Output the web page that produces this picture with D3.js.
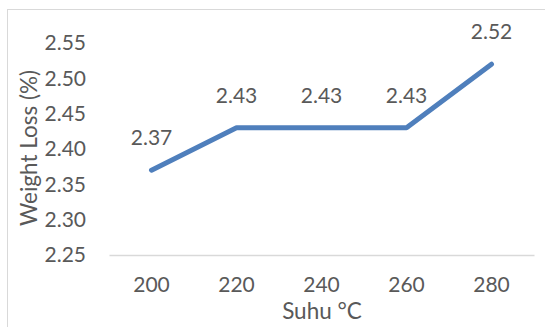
<!DOCTYPE html>
<html>
<head>
<meta charset="utf-8">
<script src="https://cdn.jsdelivr.net/npm/d3@7"></script>
<style>
  html, body { margin: 0; padding: 0; background: #fff; }
  svg { display: block; }
  text { font-family: Lato, "Open Sans", sans-serif; fill: #595959; }
</style>
</head>
<body>
<svg id="chart" width="545" height="327"></svg>
<script>
// Weight loss at each temperature
const categories = ["200", "220", "240", "260", "280"];
const weightLoss = [2.37, 2.43, 2.43, 2.43, 2.52];
const yTicks = [2.25, 2.30, 2.35, 2.40, 2.45, 2.50, 2.55];

const svg = d3.select("#chart");
const W = 545, H = 327;
const tickFont = 21, titleFont = 22.5;

// outer chart frame
svg.append("rect")
  .attr("x", 7.5).attr("y", 9.5)
  .attr("width", W + 20).attr("height", H + 20)
  .attr("fill", "#fff").attr("stroke", "#d9d9d9").attr("stroke-width", 1);

const plot = { left: 109, right: 534, top: 43, bottom: 255 };

const x = d3.scaleBand().domain(categories).range([plot.left, plot.right]);
const y = d3.scaleLinear().domain([2.25, 2.55]).range([plot.bottom, plot.top]);

// category axis
const xAxis = svg.append("g")
  .attr("transform", `translate(0,${plot.bottom})`)
  .call(d3.axisBottom(x).tickSize(0).tickPadding(22));
xAxis.select(".domain").attr("stroke", "#d9d9d9").attr("stroke-width", 1.5);
xAxis.selectAll("text").attr("font-size", tickFont).style("font-family", "Lato, sans-serif").attr("fill", "#595959");

// value axis (labels only)
const yAxis = svg.append("g")
  .attr("transform", `translate(${plot.left - 23},0)`)
  .call(d3.axisLeft(y).tickValues(yTicks).tickFormat(d3.format(".2f")).tickSize(0).tickPadding(0));
yAxis.select(".domain").remove();
yAxis.selectAll("text").attr("font-size", tickFont).style("font-family", "Lato, sans-serif").attr("fill", "#595959");

// data line
const line = d3.line()
  .x((d, i) => x(categories[i]) + x.bandwidth() / 2)
  .y(d => y(d));
svg.append("path")
  .datum(weightLoss)
  .attr("d", line)
  .attr("fill", "none")
  .attr("stroke", "#4f7fbc")
  .attr("stroke-width", 5)
  .attr("stroke-linejoin", "round")
  .attr("stroke-linecap", "round");

// value labels
svg.append("g").selectAll("text")
  .data(weightLoss)
  .join("text")
  .attr("x", (d, i) => x(categories[i]) + x.bandwidth() / 2)
  .attr("y", d => y(d) - 25)
  .attr("text-anchor", "middle")
  .attr("font-size", tickFont)
  .attr("fill", "#404040")
  .text(d => d.toFixed(2));

// axis titles
svg.append("text")
  .attr("transform", `translate(37,148) rotate(-90)`)
  .attr("text-anchor", "middle")
  .attr("font-size", titleFont)
  .text("Weight Loss (%)");

svg.append("text")
  .attr("x", 322).attr("y", 319)
  .attr("text-anchor", "middle")
  .attr("font-size", titleFont)
  .text("Suhu \u00B0C");
</script>
</body>
</html>
